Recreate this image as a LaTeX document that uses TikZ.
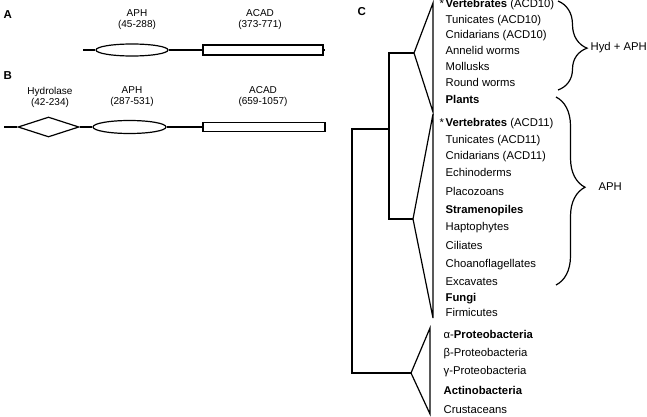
\documentclass[tikz,border=0pt]{standalone}
\usepackage{fontspec}
\setmainfont{Liberation Sans}
\usetikzlibrary{shapes.geometric,decorations.pathreplacing}

\begin{document}
\begin{tikzpicture}[x=1pt,y=-1pt,line width=1.2pt,
    taxon/.style={anchor=west,inner sep=0pt,font=\fontsize{11.3}{13}\selectfont,
                  text height=8pt,text depth=2.5pt},
    dom/.style={align=center,inner sep=0pt,font=\fontsize{10}{11}\selectfont},
    panel/.style={anchor=west,inner sep=0pt,font=\fontsize{11.5}{13}\selectfont\bfseries},
    box/.style={draw,fill=white,inner sep=0pt},
    brc/.style={decorate,decoration={brace,amplitude=29pt,aspect=#1}}]
  \useasboundingbox (0,0) rectangle (647,417);

  \node[panel] (pa) at (3,15)  {A};
  \node[panel] (pb) at (3,76)  {B};
  \node[panel] (pc) at (357,12) {C};

  % domain architectures
  \coordinate (nA) at (83,50);
  \coordinate (cA) at (325,50);
  \node[box,ellipse,minimum width=72pt,minimum height=12pt] (aphA)  at (132,50) {};
  \node[box,minimum width=120pt,minimum height=10pt]        (acadA) at (263,50) {};
  \draw (nA) -- (aphA) -- (acadA) -- (cA);
  \node[dom] (aphAl)  at (137,20) {APH\\(45-288)};
  \node[dom] (acadAl) at (260,20) {ACAD\\(373-771)};

  \coordinate (nB) at (4,127);
  \node[box,diamond,shape aspect=3,minimum width=61pt,minimum height=20pt] (hydB) at (48.5,127) {};
  \node[box,ellipse,minimum width=73pt,minimum height=13pt] (aphB)  at (129.5,127) {};
  \node[box,minimum width=122pt,minimum height=9pt]         (acadB) at (264,127) {};
  \draw (nB) -- (hydB) -- (aphB) -- (acadB);
  \node[dom] (hydBl)  at (50,97)  {Hydrolase\\(42-234)};
  \node[dom] (aphBl)  at (132,97) {APH\\(287-531)};
  \node[dom] (acadBl) at (263,97) {ACAD\\(659-1057)};

  % tree
  \coordinate (ap1) at (414,53);
  \coordinate (ap2) at (413,219);
  \coordinate (ap3) at (411,373);
  \coordinate (split) at (389,129);
  \draw (ap1) -- ++(-25,0) |- (ap2);
  \draw (split) -- ++(-37,0) |- (ap3);
  \draw (433,3)   -- (ap1) -- (433,112) -- cycle;
  \draw (433,114) -- (ap2) -- (433,318) -- cycle;
  \draw (430,328) -- (ap3) -- (430,414) -- cycle;

  \foreach \y/\txt [count=\i] in {
      5/{\textbf{Vertebrates} (ACD10)}, 21/{Tunicates (ACD10)},
      36/{Cnidarians (ACD10)}, 52/{Annelid worms}, 68/{Mollusks},
      84/{Round worms}, 101/{\textbf{Plants}},
      124/{\textbf{Vertebrates} (ACD11)}, 141/{Tunicates (ACD11)},
      157/{Cnidarians (ACD11)}, 174/{Echinoderms}, 193/{Placozoans},
      211/{\textbf{Stramenopiles}}, 228/{Haptophytes}, 247/{Ciliates},
      265/{Choanoflagellates}, 283/{Excavates}, 299/{\textbf{Fungi}},
      314/{Firmicutes}}
    \node[taxon] (t\i) at (445,\y) {\txt};
  \foreach \y/\txt [count=\i] in {
      336/{α-\textbf{Proteobacteria}}, 354/{β-Proteobacteria},
      372/{γ-Proteobacteria}, 392/{\textbf{Actinobacteria}},
      411/{Crustaceans}}
    \node[taxon] (g\i) at (443,\y) {\txt};
  \node[taxon] (st1) at (439,5)   {*};
  \node[taxon] (st2) at (439,124) {*};

  % braces
  \draw[brc=0.53] (558,1) -- (558,90);
  \draw[brc=0.48] (556,97) -- (556,285);
  \node[taxon] (hyd) at (590,48)  {Hyd + APH};
  \node[taxon] (aph) at (598,188) {APH};
\end{tikzpicture}
\end{document}
